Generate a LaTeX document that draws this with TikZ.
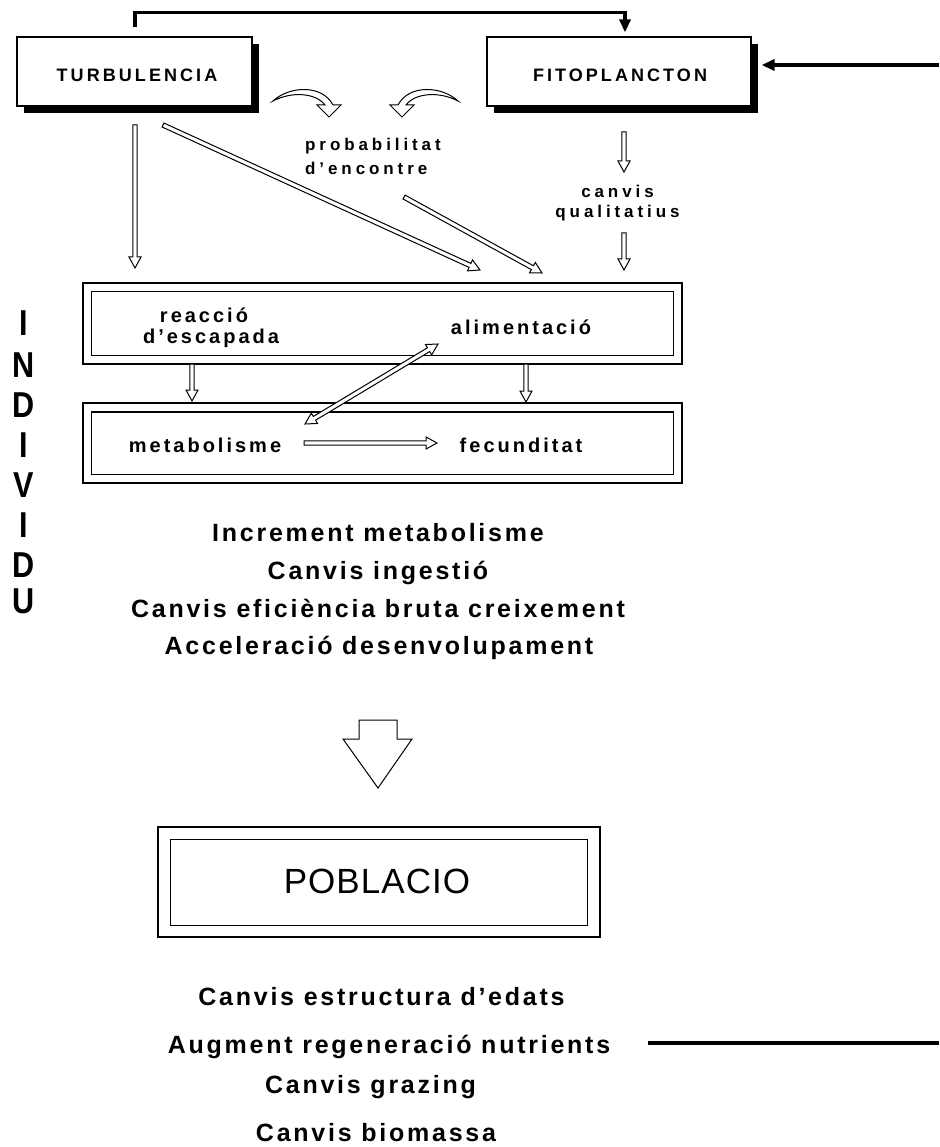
\documentclass[tikz,border=0pt]{standalone}
\usepackage{fontspec}
\usetikzlibrary{calc,shadows,arrows.meta}
\setmainfont{Liberation Sans}
\newfontfamily\ttlfont[LetterSpace=17]{Liberation Sans}
\newfontfamily\smfont[LetterSpace=23]{Liberation Sans}
\newfontfamily\bxfont[LetterSpace=15]{Liberation Sans}
\newfontfamily\lnfont[LetterSpace=11]{Liberation Sans}
\newfontfamily\popfont[LetterSpace=3]{Liberation Sans}

\tikzset{
 topbox/.style={draw, line width=1.2pt, fill=white, minimum height=69pt, inner sep=0pt,
   drop shadow={shadow xshift=7pt, shadow yshift=-7pt, fill=black, opacity=1}},
 dbox/.style={draw, line width=1.2pt, inner sep=0pt},
 ttl/.style={font=\ttlfont\bfseries\fontsize{18}{21}\selectfont, anchor=base, inner sep=0pt},
 sml/.style={font=\smfont\bfseries\fontsize{17}{20}\selectfont, anchor=base, inner sep=0pt},
 bxl/.style={font=\bxfont\bfseries\fontsize{20}{24}\selectfont, anchor=base, inner sep=0pt},
 lnl/.style={font=\lnfont\bfseries\fontsize{25}{30}\selectfont, anchor=base, inner sep=0pt},
 popl/.style={font=\popfont\fontsize{35}{40}\selectfont, anchor=base, inner sep=0pt},
 indl/.style={font=\bfseries\fontsize{36}{40}\selectfont, anchor=base, inner sep=0pt},
 hollow/.style={draw, line width=1pt, fill=white, line join=miter},
 fb/.style={line width=3.5pt, -{Triangle[length=13pt, width=11pt]}},
 fbline/.style={line width=3.5pt},
}

\newcommand\harrow[2]{%
 \draw[hollow] let \p1=($(#2)-(#1)$), \n1={atan2(\y1,\x1)} in
  ($(#1)+(\n1+90:2.2pt)$) -- ($(#2)+(\n1+180:11pt)+(\n1+90:2.2pt)$)
  -- ($(#2)+(\n1+180:11pt)+(\n1+90:6pt)$) -- (#2)
  -- ($(#2)+(\n1+180:11pt)+(\n1-90:6pt)$) -- ($(#2)+(\n1+180:11pt)+(\n1-90:2.2pt)$)
  -- ($(#1)+(\n1-90:2.2pt)$) -- cycle;}

\newcommand\hdarrow[2]{%
 \draw[hollow] let \p1=($(#2)-(#1)$), \n1={atan2(\y1,\x1)} in
  (#1) -- ($(#1)+(\n1:11pt)+(\n1+90:6pt)$) -- ($(#1)+(\n1:11pt)+(\n1+90:2.2pt)$)
  -- ($(#2)+(\n1+180:11pt)+(\n1+90:2.2pt)$) -- ($(#2)+(\n1+180:11pt)+(\n1+90:6pt)$)
  -- (#2)
  -- ($(#2)+(\n1+180:11pt)+(\n1-90:6pt)$) -- ($(#2)+(\n1+180:11pt)+(\n1-90:2.2pt)$)
  -- ($(#1)+(\n1:11pt)+(\n1-90:2.2pt)$) -- ($(#1)+(\n1:11pt)+(\n1-90:6pt)$) -- cycle;}

\begin{document}
\begin{tikzpicture}[x=1pt, y=-1pt]
\path[use as bounding box, fill=white] (0,0) rectangle (939,1147);

% top boxes
\node[topbox, minimum width=235pt] (turb) at (134.5,71.5) {};
\node[ttl] (turbt) at (137,82) {TURBULENCIA};
\node[topbox, minimum width=264pt] (fito) at (619,71.5) {};
\node[ttl] (fitot) at (620,82) {FITOPLANCTON};

% feedback lines
\coordinate (tA) at ($(turb.north)+(0.5,-9)$);
\coordinate (tC) at ($(fito.north)+(6,-4)$);
\draw[fb] (tA) -- ++(0,-15) -| (tC);
\coordinate (rin) at (939,65);
\draw[fb] (rin) -- ($(fito.east |- rin)+(10,0)$);
\coordinate (lout) at (648,1043);
\coordinate (rout) at (939,1043);
\draw[fbline] (lout) -- (rout);

% curved arrows
\draw[hollow] (273,101) .. controls (289,86) and (322,84) .. (333,105) -- (341,105) -- (329,117)
  -- (317,105) -- (325,105) .. controls (316,93) and (292,91) .. (273,101) -- cycle;
\draw[hollow] (458,101) .. controls (442,86) and (409,84) .. (398,105) -- (390,105) -- (402,117)
  -- (414,105) -- (406,105) .. controls (415,93) and (439,91) .. (458,101) -- cycle;

% labels
\node[sml, anchor=base west] (prob1) at (305,151) {probabilitat};
\node[sml, anchor=base west] (prob2) at (305,175) {d’encontre};
\node[sml] (canv1) at (617.5,198) {canvis};
\node[sml] (canv2) at (617.5,218) {qualitatius};

% individual boxes
\node[dbox, minimum width=599pt, minimum height=81pt] (box1) at (382.5,323.5) {};
\draw[dbox] ([shift={(9,9.5)}]box1.north west) rectangle ([shift={(-9.5,-9)}]box1.south east);
\node[dbox, minimum width=599pt, minimum height=80pt] (box2) at (382.5,443) {};
\draw[dbox] ([shift={(9,9.5)}]box2.north west) rectangle ([shift={(-9.5,-9.5)}]box2.south east);

\node[bxl] (reac1) at (204,322) {reacció};
\node[bxl] (reac2) at (211,343) {d’escapada};
\node[bxl] (alim) at (521,334) {alimentació};
\node[bxl] (metab) at (205,452) {metabolisme};
\node[bxl] (fecun) at (521,452) {fecunditat};

% arrows
\coordinate (t1s) at (135,125);   \coordinate (t1e) at (135,268);
\coordinate (d1s) at (163,125);   \coordinate (d1e) at (480,270);
\coordinate (d2s) at (404,197);   \coordinate (d2e) at (542,273);
\coordinate (f1s) at (624,132);   \coordinate (f1e) at (624,172);
\coordinate (f2s) at (624,233);   \coordinate (f2e) at (624,270);
\coordinate (b1s) at (192,364);   \coordinate (b1e) at (192,401);
\coordinate (b2s) at (526,364);   \coordinate (b2e) at (526,402);
\coordinate (mds) at (305,424);   \coordinate (mde) at (438,344);
\coordinate (mfs) at (304,443);   \coordinate (mfe) at (437,443);
\harrow{t1s}{t1e}
\harrow{d1s}{d1e}
\harrow{d2s}{d2e}
\harrow{f1s}{f1e}
\harrow{f2s}{f2e}
\harrow{b1s}{b1e}
\harrow{b2s}{b2e}
\hdarrow{mds}{mde}
\harrow{mfs}{mfe}

% INDIVIDU
\foreach \l/\yy in {I/335, N/377, D/417, I/457, V/497, I/537, D/577, U/613}
  \node[indl] (ind\yy) at (24,\yy) {\scalebox{0.85}[1]{\l}};

% effects on individual
\node[lnl] (l1) at (378,541) {Increment metabolisme};
\node[lnl] (l2) at (378,579) {Canvis ingestió};
\node[lnl] (l3) at (378,617) {Canvis eficiència bruta creixement};
\node[lnl] (l4) at (379,654) {Acceleració desenvolupament};

% big arrow
\draw[hollow] (359,720) -- (397,720) -- (397,739) -- (412,739) -- (378,788) -- (343,739) -- (359,739) -- cycle;

% population
\node[dbox, minimum width=442pt, minimum height=110pt] (popbox) at (379,882) {};
\draw[dbox] ([shift={(13,13)}]popbox.north west) rectangle ([shift={(-13,-12)}]popbox.south east);
\node[popl] (pop) at (377,893) {POBLACIO};

\node[lnl] (p1) at (381.5,1005) {Canvis estructura d’edats};
\node[lnl] (p2) at (389,1053) {Augment regeneració nutrients};
\node[lnl] (p3) at (370.5,1093) {Canvis grazing};
\node[lnl] (p4) at (376,1141) {Canvis biomassa};
\end{tikzpicture}
\end{document}
